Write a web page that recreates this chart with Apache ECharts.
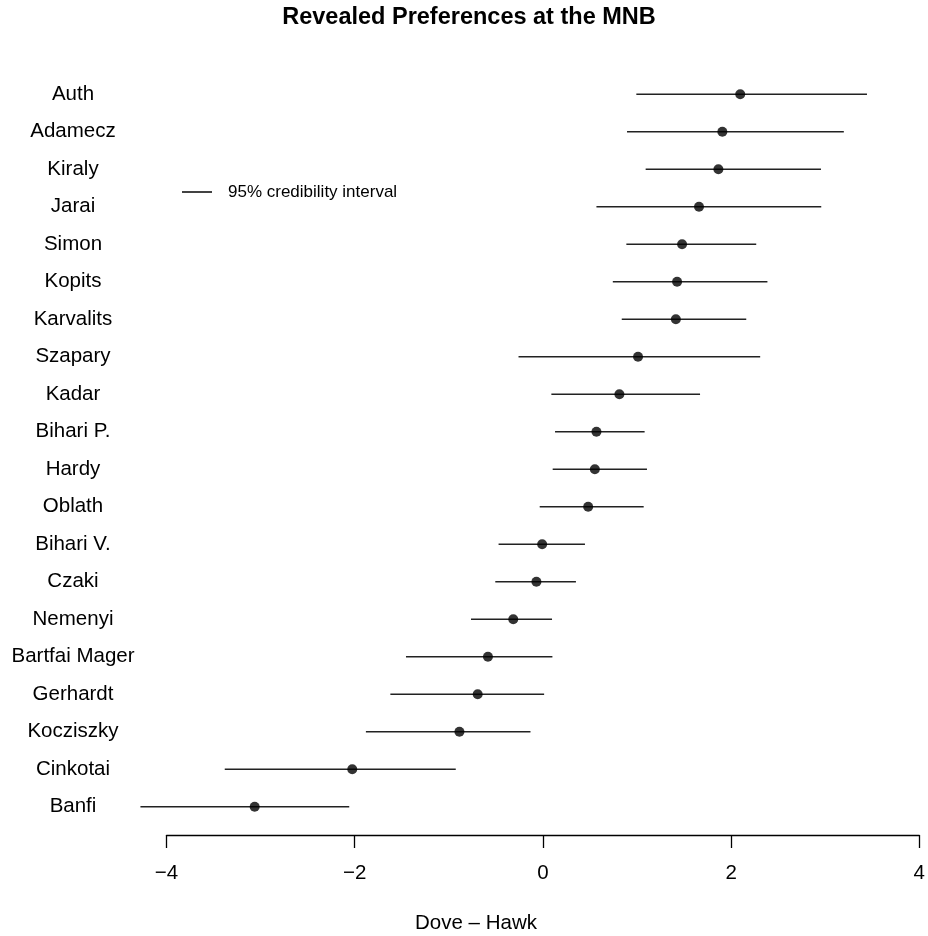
<!DOCTYPE html>
<html><head><meta charset="utf-8">
<script src="https://cdn.jsdelivr.net/npm/echarts@6/dist/echarts.min.js"></script>
<style>html,body{margin:0;padding:0;background:#fff}#c{width:928px;height:936px}</style>
</head><body><div id="c"></div>
<script>
const names = ['Auth','Adamecz','Kiraly','Jarai','Simon','Kopits','Karvalits','Szapary','Kadar','Bihari P.','Hardy','Oblath','Bihari V.','Czaki','Nemenyi','Bartfai Mager','Gerhardt','Kocziszky','Cinkotai','Banfi'];
const estimate = [2.097,1.907,1.865,1.659,1.479,1.426,1.413,1.011,0.813,0.569,0.552,0.481,-0.008,-0.069,-0.315,-0.584,-0.693,-0.887,-2.026,-3.063];
const lower = [0.993,0.894,1.092,0.569,0.887,0.743,0.838,-0.259,0.090,0.129,0.104,-0.034,-0.471,-0.506,-0.764,-1.455,-1.621,-1.881,-3.381,-4.277];
const upper = [3.444,3.198,2.955,2.958,2.267,2.386,2.161,2.309,1.670,1.081,1.106,1.071,0.447,0.351,0.097,0.101,0.013,-0.132,-0.926,-2.058];
const xTicks = [-4,-2,0,2,4];
const titleText = 'Revealed Preferences at the MNB';
const xLabel = 'Dove \u2013 Hawk';
const legendText = '95% credibility interval';

const ff = '"Liberation Sans", Arial, Helvetica, sans-serif';
const chart = echarts.init(document.getElementById('c'), null, {renderer:'canvas'});
const option = {
  animation: false,
  backgroundColor: '#fff',
  grid: {left: 166.5, right: 5.5, top: 75.5, height: 750},
  xAxis: {
    type: 'value', min: xTicks[0], max: xTicks[xTicks.length-1], interval: 2, offset: 9.5,
    axisLine: {show: true, lineStyle: {color: '#000', width: 1.3}},
    axisTick: {show: true, inside: false, length: 13, lineStyle: {color: '#000', width: 1.3}},
    axisLabel: {margin: 28, fontSize: 20.5, color: '#000', fontFamily: ff,
      formatter: v => v < 0 ? '\u2212' + Math.abs(v) : String(v)},
    splitLine: {show: false}
  },
  yAxis: {
    type: 'category', data: names, inverse: true,
    axisLine: {show: false}, axisTick: {show: false}, splitLine: {show: false},
    axisLabel: {align: 'center', margin: 93.5, fontSize: 20.5, color: '#000', fontFamily: ff}
  },
  series: [
    {
      type: 'custom', clip: false,
      data: names.map((n, i) => [i, lower[i], upper[i]]),
      encode: {y: 0, x: [1, 2]},
      renderItem: (params, api) => {
        const idx = api.value(0);
        const p1 = api.coord([api.value(1), idx]);
        const p2 = api.coord([api.value(2), idx]);
        return {type: 'line', shape: {x1: p1[0], y1: p1[1], x2: p2[0], y2: p2[1]},
                style: {stroke: '#222', lineWidth: 1.7}};
      },
      z: 1
    },
    {
      type: 'scatter', symbol: 'circle', symbolSize: 10,
      data: names.map((n, i) => [estimate[i], n]),
      itemStyle: {color: '#000'}, z: 3
    }
  ],
  graphic: [
    {type: 'text', x: 469, y: 18, style: {text: titleText, textAlign: 'center', textVerticalAlign: 'middle',
      font: 'bold 23.5px ' + ff, fill: '#000'}},
    {type: 'text', x: 476, y: 923, style: {text: xLabel, textAlign: 'center', textVerticalAlign: 'middle',
      font: '20.5px ' + ff, fill: '#000'}},
    {type: 'line', shape: {x1: 182, y1: 192, x2: 212, y2: 192}, style: {stroke: '#222', lineWidth: 1.7}},
    {type: 'text', x: 228, y: 192, style: {text: legendText, textAlign: 'left', textVerticalAlign: 'middle',
      font: '17px ' + ff, fill: '#000'}}
  ]
};
chart.setOption(option);
</script>
</body></html>
